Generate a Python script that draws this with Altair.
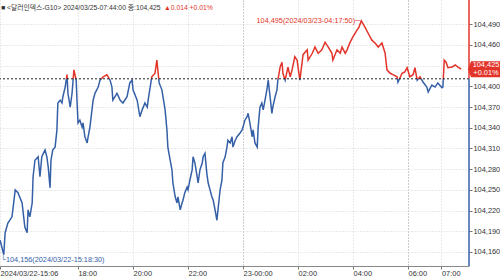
import altair as alt
import pandas as pd

# ---- data (minutes along the chart axis since 15:06, price) ----
minutes = [4, 12, 15, 21, 30, 37, 43, 52, 58, 63, 65, 69, 74, 76, 80, 87, 91, 95, 102, 106,
           109, 113, 115, 119, 124, 128, 130, 135, 139, 141, 146, 150, 152, 157, 161, 165, 170, 172, 174, 178,
           183, 185, 189, 194, 196, 200, 207, 211, 218, 222, 229, 237, 244, 248, 250, 259, 266, 272, 281, 287,
           292, 294, 303, 309, 314, 320, 325, 327, 335, 342, 346, 351, 357, 364, 368, 370, 375, 379, 381, 386,
           390, 392, 397, 401, 403, 407, 412, 414, 418, 423, 425, 429, 434, 436, 440, 445, 447, 451, 455, 458,
           462, 466, 469, 473, 477, 480, 484, 488, 490, 495, 499, 501, 506, 510, 512, 517, 521, 527, 532, 534,
           538, 543, 545, 549, 554, 556, 560, 565, 567, 571, 575, 578, 582, 586, 589, 593, 597, 599, 604, 608,
           610, 615, 619, 621, 626, 632, 637, 641, 647, 652, 654, 658, 665, 674, 676, 685, 691, 698, 706, 713,
           720, 728, 730, 739, 746, 750, 757, 761, 767, 774, 783, 787, 792, 800, 807, 815, 822, 829, 837, 844,
           848, 855, 861, 870, 872, 881, 887, 892, 898, 905, 909, 914, 920, 927, 935, 938, 946, 953, 959, 968,
           970, 973, 977, 981, 990, 997, 1003, 1010]
prices = [104.177, 104.156, 104.188, 104.202, 104.211, 104.250, 104.246, 104.231, 104.196, 104.188,
          104.221, 104.211, 104.231, 104.269, 104.293, 104.298, 104.269, 104.298, 104.308, 104.298,
          104.283, 104.253, 104.293, 104.308, 104.312, 104.337, 104.376, 104.380, 104.376, 104.385,
          104.399, 104.417, 104.390, 104.370, 104.390, 104.424, 104.409, 104.376, 104.347, 104.351,
          104.341, 104.347, 104.327, 104.318, 104.327, 104.341, 104.380, 104.390, 104.399, 104.409,
          104.414, 104.417, 104.409, 104.399, 104.380, 104.390, 104.380, 104.376, 104.385, 104.405,
          104.409, 104.395, 104.380, 104.356, 104.366, 104.376, 104.370, 104.380, 104.414, 104.419,
          104.438, 104.405, 104.395, 104.366, 104.337, 104.312, 104.293, 104.279, 104.260, 104.240,
          104.231, 104.240, 104.221, 104.231, 104.235, 104.246, 104.254, 104.250, 104.264, 104.279,
          104.298, 104.289, 104.269, 104.260, 104.279, 104.289, 104.298, 104.303, 104.274, 104.260,
          104.250, 104.240, 104.235, 104.221, 104.206, 104.225, 104.250, 104.264, 104.289, 104.298,
          104.312, 104.322, 104.318, 104.327, 104.312, 104.322, 104.327, 104.332, 104.337, 104.341,
          104.351, 104.356, 104.361, 104.347, 104.327, 104.337, 104.318, 104.312, 104.341, 104.370,
          104.376, 104.366, 104.380, 104.395, 104.409, 104.385, 104.361, 104.370, 104.385, 104.395,
          104.409, 104.428, 104.435, 104.419, 104.409, 104.428, 104.414, 104.424, 104.443, 104.438,
          104.428, 104.409, 104.446, 104.453, 104.438, 104.448, 104.457, 104.448, 104.453, 104.464,
          104.457, 104.448, 104.438, 104.453, 104.448, 104.457, 104.448, 104.453, 104.463, 104.472,
          104.482, 104.486, 104.495, 104.486, 104.477, 104.467, 104.463, 104.457, 104.463, 104.448,
          104.424, 104.419, 104.417, 104.414, 104.406, 104.419, 104.421, 104.427, 104.414, 104.417,
          104.427, 104.409, 104.414, 104.406, 104.399, 104.392, 104.402, 104.399, 104.405, 104.398,
          104.399, 104.438, 104.435, 104.427, 104.428, 104.431, 104.428, 104.425]

tick_minutes = [3.8, 174, 294, 414, 534, 654, 774, 894, 967]
tick_labels = ["2024/03/22-15:06", "18:00", "20:00", "22:00", "23-00:00", "02:00", "04:00", "06:00", "07:00"]
y_ticks = [104.160, 104.190, 104.220, 104.250, 104.280, 104.310, 104.340, 104.370, 104.400, 104.430,
           104.460, 104.490]

prev_close = 104.411
last_price = 104.425
header_main = "■ <달러인덱스-G10> 2024/03/25-07:44:00 종:104,425"
header_change = "▲0.014  +0.01%"
box_lines = ["104,425", "+0.01%"]
max_label = "104,495(2024/03/23-04:17:50)─"
min_label = "└104,156(2024/03/22-15:18:30)"
max_time, max_price = 792, 104.495
min_time, min_price = 12, 104.156

RED = "#e3342a"
BLUE = "#3560a8"
FONT = "Liberation Sans, Noto Sans CJK KR, sans-serif"
W, H = 469, 266
xdom = [3.8, 1027]
ydom = [104.1397, 104.5252]

df = pd.DataFrame({"t": minutes, "p": prices})
one = pd.DataFrame({"k": [0]})

xs = alt.Scale(domain=xdom, nice=False, zero=False)
ys = alt.Scale(domain=ydom, nice=False, zero=False)

split = (max(prices) - prev_close) / (max(prices) - min(prices))
grad = alt.LinearGradient(
    gradient="linear", x1=0, y1=0, x2=0, y2=1,
    stops=[alt.GradientStop(offset=0, color=RED), alt.GradientStop(offset=split, color=RED),
           alt.GradientStop(offset=split, color=BLUE), alt.GradientStop(offset=1, color=BLUE)])

tick_arr = "[" + ",".join(str(v) for v in tick_minutes) + "]"
lab_arr = "[" + ",".join("'" + s + "'" for s in tick_labels) + "]"

x_axis = alt.Axis(
    values=tick_minutes, tickCount=len(tick_minutes) + 5,
    labelExpr=f"{lab_arr}[indexof({tick_arr}, datum.value)]",
    labelAlign="left", labelPadding=0, labelFontSize=7.4, labelFont=FONT, labelColor="#333",
    labelFlush=False, labelOverlap=False, tickSize=3, tickColor="#777",
    domainColor="#888", grid=True, gridDash=[1, 2],
    gridColor={"condition": {"test": "datum.value == 534 || datum.value == 894", "value": "#9a9a9a"},
               "value": "#d4d4d4"},
    title=None)
y_axis = alt.Axis(
    orient="right", values=y_ticks, tickCount=len(y_ticks) + 5,
    labelExpr="(datum.value > 104.428 && datum.value < 104.432) ? '' : replace(format(datum.value, '.3f'), '.', ',')",
    labelPadding=1, labelFontSize=7.4, labelFont=FONT, labelColor="#333", labelBaseline="middle",
    labelOverlap=False, labelFlush=False,
    tickSize=3, tickColor="#777", domain=False, grid=True, gridDash=[1, 2], gridColor="#d4d4d4",
    title=None)

line = alt.Chart(df).mark_line(stroke=grad, strokeWidth=1.5, clip=True).encode(
    x=alt.X("t:Q", scale=xs, axis=x_axis),
    y=alt.Y("p:Q", scale=ys, axis=y_axis),
    order="t:Q")

ref = alt.Chart(one).mark_rule(color="#222", strokeDash=[2, 2], strokeWidth=1).encode(
    y=alt.datum(prev_close))

axis_red = alt.Chart(one).mark_rule(color=RED, strokeWidth=1.5).encode(
    x=alt.value(W), y=alt.datum(prev_close), y2=alt.value(0))
axis_blue = alt.Chart(one).mark_rule(color=BLUE, strokeWidth=1.5).encode(
    x=alt.value(W), y=alt.datum(prev_close), y2=alt.value(H))

box = alt.Chart(one).mark_point(
    shape="M -1 0 L -0.82 -0.47 L 1 -0.47 L 1 0.47 L -0.82 0.47 Z",
    filled=True, fill=RED, opacity=1, strokeWidth=0, size=1156).encode(
    x=alt.value(W + 16), y=alt.datum(last_price))
box_t1 = alt.Chart(one).mark_text(color="white", fontSize=7.4, font=FONT, dy=-4, align="center",
                                  text=box_lines[0]).encode(x=alt.value(W + 17), y=alt.datum(last_price))
box_t2 = alt.Chart(one).mark_text(color="white", fontSize=7.4, font=FONT, dy=4, align="center",
                                  text=box_lines[1]).encode(x=alt.value(W + 17), y=alt.datum(last_price))

max_txt = alt.Chart(one).mark_text(color=RED, fontSize=7.3, font=FONT, align="right", baseline="middle",
                                   dx=-1, text=max_label).encode(
    x=alt.datum(max_time), y=alt.datum(max_price))
min_txt = alt.Chart(one).mark_text(color=BLUE, fontSize=7.3, font=FONT, align="left", baseline="middle",
                                   dx=-3, dy=5, text=min_label).encode(
    x=alt.datum(min_time), y=alt.datum(min_price))

hdr1 = alt.Chart(one).mark_text(color="#333", fontSize=6.8, font=FONT, align="left", baseline="middle",
                                text=header_main).encode(x=alt.value(1), y=alt.value(8))
hdr2 = alt.Chart(one).mark_text(color=RED, fontSize=6.8, font=FONT, align="left", baseline="middle",
                                text=header_change).encode(x=alt.value(164), y=alt.value(8))

chart = alt.layer(line, ref, axis_red, axis_blue, box, box_t1, box_t2, max_txt, min_txt, hdr1, hdr2).properties(
    width=W, height=H, autosize="none",
    padding={"left": 0, "top": 0, "right": 31, "bottom": 11},
    background="white",
).configure_view(stroke=None)

chart.save("out.html", embed_options={"renderer": "svg", "actions": False})
